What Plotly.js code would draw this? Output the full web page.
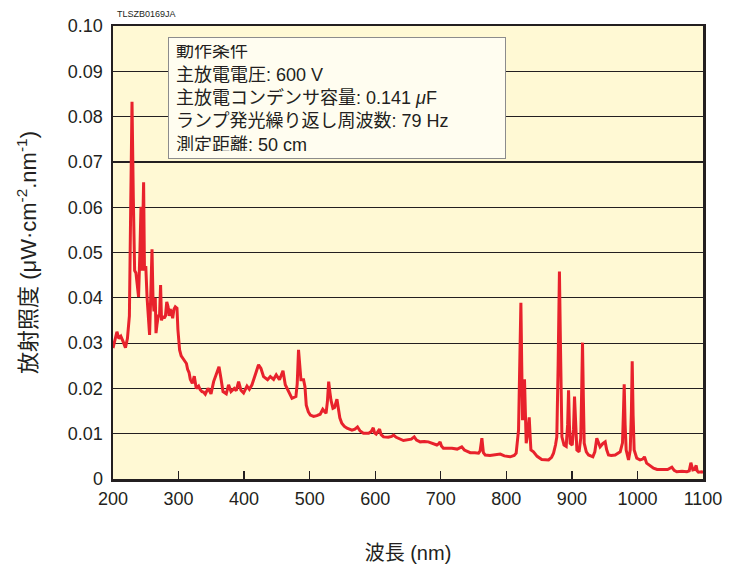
<!DOCTYPE html>
<html>
<head>
<meta charset="utf-8">
<script src="https://cdn.plot.ly/plotly-3.0.1.min.js"></script>
<style>html,body{margin:0;padding:0;background:#fff;}#chart{width:738px;height:567px;}</style>
</head>
<body>
<div id="chart"></div>
<script>
// Wavelength (nm)
const wavelength = [
200,203,206,209,212,215,219,222,225,227,229,231,233,235,237,239,241,242.7,244,246.7,248,250,252,254,255.8,257.5,259.5,261,262.5,264.5,265.6,267,269,271,272.6,274,276,278,280,282,284,285.5,287,289,291,293,295,297.6,299,301.6,304,306.8,310,312,313.8,316,317.9,321,324,327,330.6,333,335.7,338,340.8,344.9,347,349.5,353.5,358.6,361.7,364.7,367.8,372.8,376.3,380,385,388,391.6,395.2,399.2,404.4,408,412,417,422,425.7,429.7,435.8,440,445,449,454,459.3,462.8,467.8,473,479,481,483,485,486.7,490.7,492.8,494.8,498,501,506,511,516,520,523,525,527,529,531,532.5,535.5,538,541.6,544,546,549,553,557,564.5,569,573,577,582,590,594,597,599,601.5,604,606.6,609,612.7,620,625,628,632,643,650,655,659.5,663,668.6,675,681,688,694,697,699,701,704,710,717,725,732,736,745,752,757.6,760,762.7,765,767.8,775,782,790.7,797,805.9,812,815,818.6,820.5,822.2,823.5,824.7,826.3,827.7,829,830.3,832.5,834.9,836.5,837.5,841.4,847,854,864.4,869,872,875,877,879,881,882.5,884.8,888,891.3,893.5,894.9,896.2,897.4,900.5,902.5,904,905.8,907.6,911,913.5,915,916.2,917.5,918.8,922,925.4,932,935,938,940.5,943,947,950.8,953,955.8,960,966,973.7,977.2,978.7,979.8,981.2,982.8,986.4,989,990.8,992,993.4,995,999,1004,1008,1010.7,1014,1020,1024.5,1030,1039.7,1046,1052.5,1056,1060,1068,1075.4,1079,1081.5,1083,1084.5,1087,1089.6,1091,1093,1098,1100
];
// Irradiance (µW·cm-2·nm-1)
const irradiance = [
0.0289,0.031,0.0325,0.031,0.0315,0.0305,0.029,0.031,0.036,0.060,0.0833,0.062,0.046,0.0455,0.043,0.0402,0.050,0.0601,0.046,0.0655,0.046,0.047,0.040,0.036,0.0318,0.040,0.0507,0.040,0.037,0.040,0.0322,0.034,0.036,0.036,0.0428,0.035,0.036,0.0355,0.036,0.0391,0.038,0.036,0.0375,0.037,0.0355,0.0375,0.038,0.0377,0.033,0.0285,0.0272,0.0266,0.0259,0.0255,0.0242,0.0235,0.022,0.0211,0.0227,0.020,0.0205,0.0197,0.0193,0.0192,0.0187,0.020,0.0195,0.0188,0.0215,0.0237,0.0248,0.0222,0.0193,0.0188,0.0208,0.0193,0.020,0.0195,0.0215,0.0196,0.019,0.0205,0.0198,0.0208,0.023,0.0252,0.0244,0.0226,0.0219,0.0226,0.022,0.023,0.0219,0.0239,0.0208,0.0193,0.0178,0.0182,0.021,0.0285,0.025,0.0219,0.0219,0.0204,0.0163,0.0148,0.0141,0.0138,0.014,0.0143,0.0154,0.0148,0.0145,0.017,0.0215,0.019,0.0174,0.0156,0.0158,0.0176,0.0152,0.0135,0.0123,0.0116,0.0112,0.0108,0.011,0.0115,0.0106,0.0101,0.0101,0.0105,0.0113,0.0102,0.0099,0.0105,0.011,0.0098,0.0093,0.0092,0.0094,0.0097,0.0092,0.0085,0.0087,0.0088,0.0093,0.0086,0.0082,0.0083,0.0082,0.0078,0.0075,0.0078,0.0082,0.0073,0.0068,0.0068,0.0068,0.0066,0.0071,0.0064,0.0058,0.0058,0.0057,0.0062,0.009,0.0058,0.0053,0.0052,0.0053,0.0055,0.0051,0.0049,0.0052,0.0057,0.0108,0.025,0.0389,0.025,0.013,0.018,0.022,0.015,0.0079,0.010,0.0136,0.009,0.0064,0.006,0.005,0.0043,0.0042,0.0048,0.0057,0.0075,0.0093,0.025,0.0458,0.030,0.0093,0.0075,0.0072,0.012,0.0196,0.012,0.0079,0.0075,0.011,0.0182,0.011,0.0064,0.006,0.009,0.020,0.0301,0.018,0.0079,0.006,0.0053,0.0049,0.006,0.009,0.0078,0.0071,0.0078,0.0082,0.0065,0.0053,0.0052,0.0053,0.006,0.008,0.015,0.0209,0.012,0.0064,0.0042,0.0064,0.015,0.026,0.014,0.0064,0.0046,0.0042,0.0044,0.0049,0.0035,0.0028,0.0024,0.0021,0.002,0.0021,0.0026,0.0019,0.0016,0.0017,0.0016,0.0018,0.0036,0.0025,0.002,0.0021,0.003,0.0018,0.0015,0.0016,0.0014
];
const xTickVals = [200,300,400,500,600,700,800,900,1000,1100];
const yTickVals = [0,0.01,0.02,0.03,0.04,0.05,0.06,0.07,0.08,0.09,0.10];
const yTickText = ['0','0.01','0.02','0.03','0.04','0.05','0.06','0.07','0.08','0.09','0.10'];
const conditionLines = [
  '動作条件',
  '主放電電圧: 600 V',
  '主放電コンデンサ容量: 0.141 <i>μ</i>F',
  'ランプ発光繰り返し周波数: 79 Hz',
  '測定距離: 50 cm'
];

const FONT = 'Liberation Sans, Arial, Noto Sans CJK JP, sans-serif';
const INK = '#231f20';

const trace = {
  x: wavelength, y: irradiance, type: 'scatter', mode: 'lines',
  line: {color: '#e8222c', width: 3}, hoverinfo: 'skip'
};

const layout = {
  width: 738, height: 567,
  margin: {l: 113, r: 35, t: 26, b: 88},
  paper_bgcolor: '#ffffff',
  plot_bgcolor: '#fff9d4',
  showlegend: false,
  font: {family: FONT, color: INK, size: 18},
  xaxis: {
    range: [200, 1100], tickvals: xTickVals, ticktext: xTickVals.map(String),
    ticks: 'inside', ticklen: 8, tickwidth: 1.3, tickcolor: INK,
    showgrid: false, zeroline: false,
    showline: true, mirror: true, linecolor: INK, linewidth: 2.5,
    tickfont: {size: 18, color: INK, family: FONT},
    ticklabelstandoff: 2,
    title: {text: '波長 (nm)', font: {size: 20, color: INK, family: FONT}, standoff: 38}
  },
  yaxis: {
    range: [0, 0.1], tickvals: yTickVals, ticktext: yTickText,
    ticks: '', showgrid: true, gridcolor: INK, gridwidth: 1.2, zeroline: false,
    showline: true, mirror: true, linecolor: INK, linewidth: 2.5,
    tickfont: {size: 18, color: INK, family: FONT},
    ticklabelstandoff: 4,
    title: {text: '放射照度 (μW·cm<sup>-2</sup>.nm<sup>-1</sup>)', font: {size: 22, color: INK, family: FONT}, standoff: 25}
  },
  annotations: [
    {
      xref: 'paper', yref: 'paper', x: 0.004, y: 1.01, xanchor: 'left', yanchor: 'bottom',
      text: 'TLSZB0169JA', showarrow: false, font: {size: 9, color: INK, family: FONT}
    },
    {
      xref: 'paper', yref: 'paper', x: 0.093, y: 0.976, xanchor: 'left', yanchor: 'top',
      text: conditionLines.join('<br>'), showarrow: false, align: 'left',
      width: 322, height: 106, borderpad: 7,
      bgcolor: '#fffdf0', bordercolor: '#8c8c8c', borderwidth: 1,
      font: {size: 18, color: INK, family: FONT}
    }
  ]
};

Plotly.newPlot('chart', [trace], layout, {displayModeBar: false, staticPlot: true});
</script>
</body>
</html>
